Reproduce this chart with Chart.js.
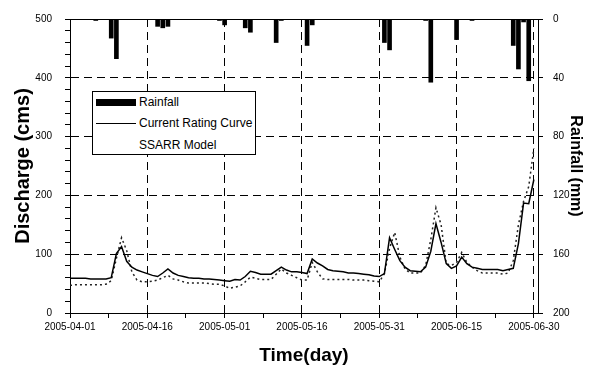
<!DOCTYPE html>
<html lang="en">
<head>
    <meta charset="UTF-8">
    <title>Discharge and Rainfall</title>
    <script src="https://cdn.jsdelivr.net/npm/chart.js"></script>
    <style>
        body {
            margin: 0;
            background: #fff;
            font-family: 'Liberation Sans', Arial, sans-serif;
        }

        .wrap {
            position: relative;
            width: 598px;
            height: 367px;
        }

        .legend {
            position: absolute;
            left: 92px;
            top: 91px;
            width: 162px;
            height: 62px;
            border: 1px solid #000;
            background: #fff;
            font-size: 12px;
            color: #000;
        }

        .legend .row {
            position: absolute;
            left: 3px;
            height: 14px;
            line-height: 14px;
            white-space: nowrap;
        }

        .legend .sw {
            display: inline-block;
            width: 40px;
            margin-right: 3px;
            vertical-align: middle;
        }
    </style>
</head>
<body>
    <div class="wrap">
        <canvas id="chart" width="598" height="367"></canvas>
        <div class="legend">
            <div class="row" style="top: 3px;"><span class="sw" style="height: 7px; background: #000;"></span>Rainfall</div>
            <div class="row" style="top: 24px;"><span class="sw" style="border-top: 1.5px solid #000;"></span>Current Rating Curve</div>
            <div class="row" style="top: 46px;"><span class="sw"></span>SSARR Model</div>
        </div>
    </div>

    <script>
        // day 0 = 2005-04-01
        const xTickLabels = ['2005-04-01', '2005-04-16', '2005-05-01', '2005-05-16', '2005-05-31', '2005-06-15', '2005-06-30'];
        const leftTicks = [0, 100, 200, 300, 400, 500];
        const rightTicks = [0, 40, 80, 120, 160, 200];

        // discharge (cms), one value per day
        const currentRating = [
            59, 59, 59, 59, 58, 58, 58, 58, 60, 101,
            113, 88, 78, 73, 70, 67, 64, 62, 68, 75,
            68, 64, 62, 60, 59, 59, 58, 58, 57, 56,
            55, 54, 57, 56, 62, 71, 69, 66, 66, 66,
            72, 78, 73, 70, 70, 69, 67, 92, 85, 80,
            74, 72, 71, 70, 68, 68, 67, 66, 65, 63,
            62, 67, 128, 108, 89, 78, 72, 71, 70, 78,
            105, 152, 120, 84, 76, 80, 95, 84, 78, 76,
            74, 74, 74, 74, 72, 74, 76, 118, 187, 186,
            227
        ];
        const ssarrModel = [
            47, 48, 48, 48, 48, 48, 48, 49, 55, 93,
            128, 106, 70, 56, 53, 53, 54, 56, 60, 64,
            58, 56, 53, 51, 51, 51, 51, 50, 49, 49,
            46, 42, 44, 46, 53, 61, 59, 57, 57, 57,
            66, 75, 68, 64, 60, 56, 56, 86, 70, 58,
            57, 57, 57, 57, 57, 56, 56, 56, 55, 54,
            53, 67, 110, 137, 95, 75, 68, 68, 68, 81,
            125, 179, 150, 84, 81, 86, 103, 86, 78, 72,
            68, 68, 68, 68, 66, 68, 89, 150, 190, 215,
            280
        ];

        // rainfall (mm)
        const rainDays = [5, 8, 9, 17, 18, 19, 29, 30, 34, 35, 40, 41, 46, 47, 61, 62, 69, 70, 75, 78, 86, 87, 88, 89];
        const rainMm = [1, 13, 27, 5, 6, 5, 1, 4, 6, 9, 16, 1, 18, 4, 16, 21, 1, 43, 14, 1, 18, 34, 2, 42];

        const tickFont = { family: "'Liberation Sans', Arial, sans-serif", size: 10 };
        const clear = 'rgba(0,0,0,0)';

        const topFrame = {
            id: 'topFrame',
            afterDraw(chart) {
                const { ctx, chartArea } = chart;
                ctx.save();
                ctx.strokeStyle = '#000';
                ctx.lineWidth = 1;
                ctx.beginPath();
                ctx.moveTo(chartArea.left, chartArea.top + 0.5);
                ctx.lineTo(chartArea.right, chartArea.top + 0.5);
                ctx.stroke();
                ctx.restore();
            }
        };

        new Chart(document.getElementById('chart'), {
            type: 'bar',
            data: {
                datasets: [
                    {
                        type: 'bar',
                        label: 'Rainfall',
                        data: rainDays.map((d, i) => ({ x: d, y: rainMm[i] })),
                        backgroundColor: '#000',
                        barThickness: 4,
                        yAxisID: 'yRain',
                        order: 3
                    },
                    {
                        type: 'line',
                        label: 'Current Rating Curve',
                        data: currentRating.map((v, i) => ({ x: i, y: v })),
                        borderColor: '#000',
                        borderWidth: 1.5,
                        pointRadius: 0,
                        tension: 0,
                        yAxisID: 'y',
                        order: 1
                    },
                    {
                        type: 'line',
                        label: 'SSARR Model',
                        data: ssarrModel.map((v, i) => ({ x: i, y: v })),
                        borderColor: '#222',
                        borderWidth: 1.5,
                        borderDash: [2, 3],
                        pointRadius: 0,
                        tension: 0,
                        yAxisID: 'y',
                        order: 2
                    }
                ]
            },
            options: {
                responsive: false,
                animation: false,
                layout: { padding: { top: 16 } },
                plugins: {
                    legend: { display: false },
                    tooltip: { enabled: false }
                },
                scales: {
                    x: {
                        type: 'linear',
                        min: 0,
                        max: 90.8,
                        offset: false,
                        afterFit: s => { s.height = 54; },
                        ticks: {
                            stepSize: 7.5,
                            includeBounds: false,
                            autoSkip: false,
                            maxRotation: 0,
                            minRotation: 0,
                            padding: 3,
                            color: '#000',
                            font: tickFont,
                            callback: v => (v % 15 === 0 ? xTickLabels[v / 15] : '')
                        },
                        grid: {
                            offset: false,
                            color: c => (c.tick && c.tick.value % 15 === 0 && c.tick.value > 0 ? '#000' : clear),
                            tickColor: '#000',
                            tickLength: 5,
                            tickBorderDash: []
                        },
                        border: { color: '#000', dash: [8, 5] },
                        title: {
                            display: true,
                            text: 'Time(day)',
                            color: '#000',
                            font: { family: "'Liberation Sans', Arial, sans-serif", size: 19, weight: 'bold' },
                            padding: { top: 0, bottom: 0 }
                        }
                    },
                    y: {
                        position: 'left',
                        min: 0,
                        max: 500,
                        afterFit: s => { s.width = 70; },
                        ticks: {
                            stepSize: 20,
                            autoSkip: false,
                            padding: 13,
                            color: '#000',
                            font: tickFont,
                            callback: v => (leftTicks.includes(v) ? v : '')
                        },
                        grid: {
                            color: c => (c.tick && c.tick.value % 100 === 0 && c.tick.value > 0 && c.tick.value < 500 ? '#000' : clear),
                            tickColor: '#000',
                            tickLength: 5,
                            tickBorderDash: []
                        },
                        border: { color: '#000', dash: [8, 5] },
                        title: {
                            display: true,
                            text: 'Discharge (cms)',
                            color: '#000',
                            font: { family: "'Liberation Sans', Arial, sans-serif", size: 20, weight: 'bold' },
                            padding: { top: 11, bottom: 0 }
                        }
                    },
                    yRain: {
                        position: 'right',
                        reverse: true,
                        min: 0,
                        max: 200,
                        afterFit: s => { s.width = 60; },
                        ticks: {
                            stepSize: 40,
                            autoSkip: false,
                            padding: 10,
                            color: '#000',
                            font: tickFont,
                            callback: v => (rightTicks.includes(v) ? v : '')
                        },
                        grid: {
                            drawOnChartArea: false,
                            color: '#000',
                            tickLength: 5
                        },
                        border: { color: '#000' },
                        title: {
                            display: true,
                            text: 'Rainfall (mm)',
                            color: '#000',
                            font: { family: "'Liberation Sans', Arial, sans-serif", size: 16, weight: 'bold' },
                            padding: { top: 13, bottom: 0 }
                        }
                    }
                }
            },
            plugins: [topFrame]
        });
    </script>
</body>
</html>
